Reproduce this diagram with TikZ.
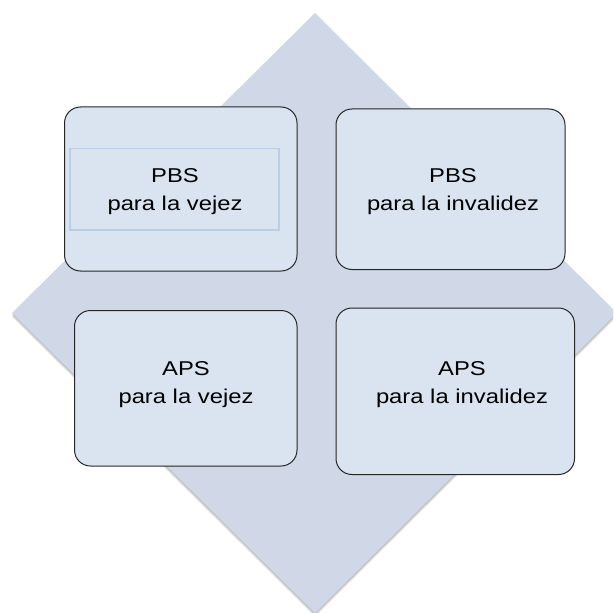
\documentclass[tikz,border=0pt]{standalone}
\usepackage{fontspec}
\setmainfont{Liberation Sans}[FakeStretch=1.19]
\definecolor{Diamond}{HTML}{D0D7E6}
\definecolor{Card}{HTML}{DAE3F0}
\definecolor{CardLine}{HTML}{262626}
\definecolor{Frame}{HTML}{B9CDE5}

\begin{document}
\begin{tikzpicture}[x=0.75pt,y=-0.75pt,
  card/.style={draw=CardLine,fill=Card,line width=0.75pt,rounded corners=12pt},
  cardtext/.style={align=center,inner sep=0pt,font=\fontsize{15}{21}\selectfont}]
\useasboundingbox (0,0) rectangle (613,613);
\clip (0,0) rectangle (613,613);
% Diamond shadow
\foreach \d in {1,...,4}
  \fill [black,opacity=0.07] (315,13+\d) -- (617,313+\d) -- (315,613+\d) -- (12,313+\d) -- cycle;
% Diamond
\fill [Diamond] (315,13) -- (617,313) -- (315,613) -- (12,313) -- cycle;
% Cards
\draw [card] (64.5,107) rectangle (297,271);
\draw [card] (336,109) rectangle (565,269.5);
\draw [card] (74.5,310.5) rectangle (297,466);
\draw [card] (336,308) rectangle (574.5,474.5);
% Frame round the first text
\draw [Frame,line width=1pt] (70,148.5) rectangle (279,230);
% Labels
\node [cardtext] (pbsv) at (175,191.6) {PBS\\para la vejez};
\node [cardtext] (pbsi) at (453,191.6) {PBS\\para la invalidez};
\node [cardtext] (apsv) at (186,384.4) {APS\\para la vejez};
\node [cardtext] (apsi) at (462,384.4) {APS\\para la invalidez};
\end{tikzpicture}
\end{document}
